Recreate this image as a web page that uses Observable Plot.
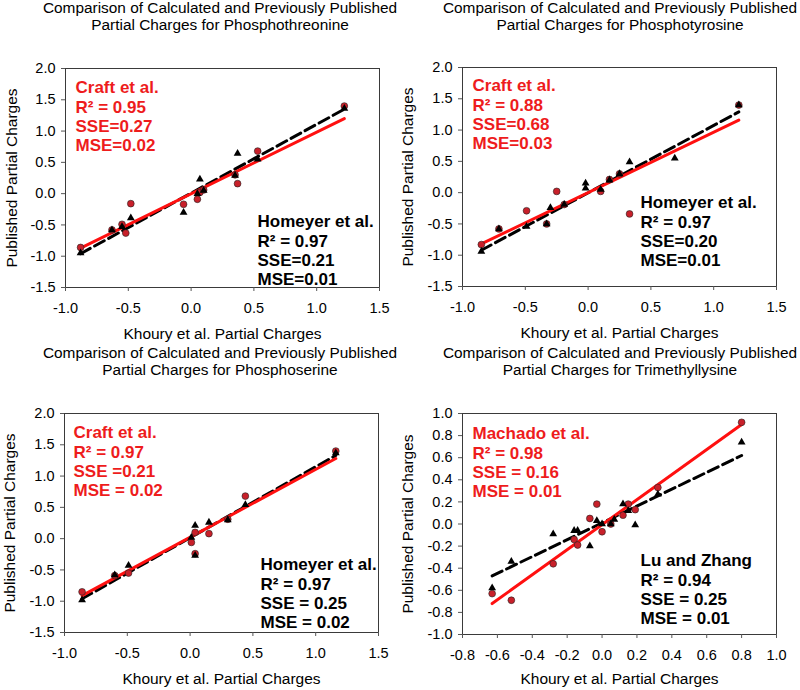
<!DOCTYPE html>
<html>
<head>
<meta charset="utf-8">
<script src="https://cdn.jsdelivr.net/npm/d3@7"></script>
<script src="https://cdn.jsdelivr.net/npm/@observablehq/plot@0.6"></script>
<style>
  html, body { margin: 0; padding: 0; background: #fff; }
  #wrap { position: relative; width: 800px; height: 690px; background: #fff; overflow: hidden; }
  .cell { position: absolute; width: 400px; height: 345px; }
  .title { position: absolute; left: 0; top: -1px; width: 440px; text-align: center;
           font-family: "Liberation Sans", Arial, sans-serif; font-size: 15.4px; line-height: 17px; color: #000; white-space: nowrap; }
</style>
</head>
<body>
<div id="wrap"></div>
<script>
// ---------- shared labels ----------
const xAxisLabel = "Khoury et al. Partial Charges";
const yAxisLabel = "Published Partial Charges";

// ---------- Panel 1: Phosphothreonine ----------
const p1Title = ["Comparison of Calculated and Previously Published", "Partial Charges for Phosphothreonine"];
const p1RedX = [-0.88, -0.63, -0.55, -0.52, -0.48, -0.06, 0.05, 0.07, 0.10, 0.35, 0.37, 0.53, 1.22];
const p1RedY = [-0.86, -0.58, -0.49, -0.63, -0.16, -0.17, -0.09, 0.02, 0.06, 0.30, 0.16, 0.68, 1.40];
const p1BlkX = [-0.88, -0.63, -0.55, -0.48, -0.06, 0.05, 0.07, 0.10, 0.35, 0.37, 0.53, 1.22];
const p1BlkY = [-0.95, -0.58, -0.53, -0.39, -0.30, 0.00, 0.23, 0.05, 0.29, 0.64, 0.55, 1.36];
const p1RedFitX = [-0.88, 1.22], p1RedFitY = [-0.87, 1.20];
const p1BlkFitX = [-0.88, 1.22], p1BlkFitY = [-0.96, 1.35];
const p1RedText = "Craft et al.\nR² = 0.95\nSSE=0.27\nMSE=0.02";
const p1BlkText = "Homeyer et al.\nR² = 0.97\nSSE=0.21\nMSE=0.01";

// ---------- Panel 2: Phosphotyrosine ----------
const p2Title = ["Comparison of Calculated and Previously Published", "Partial Charges for Phosphotyrosine"];
const p2RedX = [-0.85, -0.71, -0.49, -0.33, -0.25, -0.19, 0.10, 0.17, 0.25, 0.33, 1.20];
const p2RedY = [-0.83, -0.58, -0.29, -0.50, 0.02, -0.19, 0.02, 0.21, 0.30, -0.34, 1.40];
const p2BlkX = [-0.85, -0.71, -0.49, -0.33, -0.30, -0.19, -0.02, -0.02, 0.10, 0.17, 0.25, 0.33, 0.69, 1.20];
const p2BlkY = [-0.94, -0.58, -0.54, -0.50, -0.24, -0.19, 0.15, 0.07, 0.05, 0.20, 0.30, 0.49, 0.55, 1.40];
const p2RedFitX = [-0.85, 1.20], p2RedFitY = [-0.82, 1.16];
const p2BlkFitX = [-0.85, 1.20], p2BlkFitY = [-0.92, 1.29];
const p2RedText = "Craft et al.\nR² = 0.88\nSSE=0.68\nMSE=0.03";
const p2BlkText = "Homeyer et al.\nR² = 0.97\nSSE=0.20\nMSE=0.01";

// ---------- Panel 3: Phosphoserine ----------
const p3Title = ["Comparison of Calculated and Previously Published", "Partial Charges for Phosphoserine"];
const p3RedX = [-0.86, -0.60, -0.49, 0.01, 0.04, 0.04, 0.15, 0.30, 0.44, 1.16];
const p3RedY = [-0.85, -0.59, -0.55, -0.06, -0.24, 0.10, 0.08, 0.31, 0.68, 1.40];
const p3BlkX = [-0.86, -0.60, -0.49, 0.01, 0.04, 0.04, 0.15, 0.30, 0.44, 1.16];
const p3BlkY = [-0.98, -0.58, -0.43, 0.02, 0.21, -0.27, 0.26, 0.30, 0.54, 1.37];
const p3RedFitX = [-0.86, 1.16], p3RedFitY = [-0.91, 1.28];
const p3BlkFitX = [-0.86, 1.16], p3BlkFitY = [-0.96, 1.33];
const p3RedText = "Craft et al.\nR² = 0.97\nSSE =0.21\nMSE = 0.02";
const p3BlkText = "Homeyer et al.\nR² = 0.97\nSSE = 0.25\nMSE = 0.02";

// ---------- Panel 4: Trimethyllysine ----------
const p4Title = ["Comparison of Calculated and Previously Published", "Partial Charges for Trimethyllysine"];
const p4RedX = [-0.63, -0.52, -0.28, -0.16, -0.14, -0.07, -0.03, 0.00, 0.05, 0.12, 0.15, 0.19, 0.32, 0.80];
const p4RedY = [-0.63, -0.69, -0.36, -0.14, -0.19, 0.05, 0.18, -0.07, 0.00, 0.08, 0.18, 0.13, 0.33, 0.92];
const p4BlkX = [-0.63, -0.52, -0.28, -0.16, -0.14, -0.07, -0.03, 0.00, 0.05, 0.07, 0.12, 0.15, 0.19, 0.32, 0.80];
const p4BlkY = [-0.58, -0.34, -0.09, -0.06, -0.06, -0.20, 0.03, 0.00, 0.00, 0.04, 0.18, 0.12, -0.01, 0.27, 0.74];
const p4RedFitX = [-0.63, 0.80], p4RedFitY = [-0.72, 0.90];
const p4BlkFitX = [-0.63, 0.80], p4BlkFitY = [-0.47, 0.62];
const p4RedText = "Machado et al.\nR² = 0.98\nSSE = 0.16\nMSE = 0.01";
const p4BlkText = "Lu and Zhang\nR² = 0.94\nSSE = 0.25\nMSE = 0.01";

// ---------- tick values ----------
const ticksWide = [-1.0, -0.5, 0.0, 0.5, 1.0, 1.5];
const ticksTall = [-1.5, -1.0, -0.5, 0.0, 0.5, 1.0, 1.5, 2.0];
const ticksX4 = [-0.8, -0.6, -0.4, -0.2, 0.0, 0.2, 0.4, 0.6, 0.8, 1.0];
const ticksY4 = [-1.0, -0.8, -0.6, -0.4, -0.2, 0.0, 0.2, 0.4, 0.6, 0.8, 1.0];

const RED_TEXT = "#ee1c1c";
const RED_LINE = "#ff1010";
const RED_DOT = "#c8202a";

const zip = (xs, ys) => xs.map((x, i) => ({x, y: ys[i]}));
const fmt = d => d.toFixed(1);

const panels = [
  {left: 0, top: 0, title: p1Title, redX: p1RedX, redY: p1RedY, blkX: p1BlkX, blkY: p1BlkY,
   rfx: p1RedFitX, rfy: p1RedFitY, bfx: p1BlkFitX, bfy: p1BlkFitY, redText: p1RedText, blkText: p1BlkText,
   xd: [-1, 1.5], yd: [-1.5, 2], xt: ticksWide, yt: ticksTall,
   m: [33, 21, 58, 65], red: [10, 11], blk: [192, 145], ylab: -53, xlab: 47},
  {left: 400, top: 0, title: p2Title, redX: p2RedX, redY: p2RedY, blkX: p2BlkX, blkY: p2BlkY,
   rfx: p2RedFitX, rfy: p2RedFitY, bfx: p2BlkFitX, bfy: p2BlkFitY, redText: p2RedText, blkText: p2BlkText,
   xd: [-1, 1.5], yd: [-1.5, 2], xt: ticksWide, yt: ticksTall,
   m: [32, 24, 59, 62], red: [10, 10], blk: [178, 127], ylab: -54, xlab: 47},
  {left: 0, top: 345, title: p3Title, redX: p3RedX, redY: p3RedY, blkX: p3BlkX, blkY: p3BlkY,
   rfx: p3RedFitX, rfy: p3RedFitY, bfx: p3BlkFitX, bfy: p3BlkFitY, redText: p3RedText, blkText: p3BlkText,
   xd: [-1, 1.5], yd: [-1.5, 2], xt: ticksWide, yt: ticksTall,
   m: [33, 22, 58, 64], red: [9, 11], blk: [196, 143], ylab: -54, xlab: 47},
  {left: 400, top: 345, title: p4Title, redX: p4RedX, redY: p4RedY, blkX: p4BlkX, blkY: p4BlkY,
   rfx: p4RedFitX, rfy: p4RedFitY, bfx: p4BlkFitX, bfy: p4BlkFitY, redText: p4RedText, blkText: p4BlkText,
   xd: [-0.8, 1.0], yd: [-1.0, 1.0], xt: ticksX4, yt: ticksY4,
   m: [33, 24, 56, 62], red: [10, 12], blk: [178, 139], ylab: -54, xlab: 45}
];

const wrap = document.getElementById("wrap");
for (const p of panels) {
  const cell = document.createElement("div");
  cell.className = "cell";
  cell.style.left = p.left + "px";
  cell.style.top = p.top + "px";
  const t = document.createElement("div");
  t.className = "title";
  t.innerHTML = p.title.join("<br>");
  cell.appendChild(t);

  const chart = Plot.plot({
    width: 400,
    height: 310,
    marginTop: p.m[0], marginRight: p.m[1], marginBottom: p.m[2], marginLeft: p.m[3],
    style: {fontFamily: "'Liberation Sans', Arial, sans-serif", fontSize: "14.5px", color: "#000", background: "transparent", overflow: "visible"},
    x: {domain: p.xd},
    y: {domain: p.yd},
    marks: [
      Plot.frame({stroke: "#3a3a3a", strokeWidth: 1}),
      Plot.axisX(p.xt, {tickFormat: fmt, tickSize: 4, tickPadding: 11, stroke: "#555", label: null}),
      Plot.axisY(p.yt, {tickFormat: fmt, tickSize: 4, tickPadding: 6, stroke: "#555", label: null}),
      Plot.line(zip(p.bfx, p.bfy), {x: "x", y: "y", stroke: "#000", strokeWidth: 3, strokeDasharray: "11,5"}),
      Plot.line(zip(p.rfx, p.rfy), {x: "x", y: "y", stroke: RED_LINE, strokeWidth: 3}),
      Plot.dot(zip(p.redX, p.redY), {x: "x", y: "y", r: 3.4, fill: RED_DOT, stroke: "#222", strokeWidth: 0.6}),
      Plot.dot(zip(p.blkX, p.blkY), {x: "x", y: "y", symbol: "triangle", r: 2.9, fill: "#000", stroke: "none"}),
      Plot.text([p.redText], {text: d => d, frameAnchor: "top-left", dx: p.red[0], dy: p.red[1], textAnchor: "start", lineAnchor: "top",
        fontSize: 17, fontWeight: "bold", lineHeight: 1.14, fill: RED_TEXT}),
      Plot.text([p.blkText], {text: d => d, frameAnchor: "top-left", dx: p.blk[0], dy: p.blk[1], textAnchor: "start", lineAnchor: "top",
        fontSize: 17, fontWeight: "bold", lineHeight: 1.14, fill: "#000"}),
      Plot.text([yAxisLabel], {text: d => d, frameAnchor: "left", rotate: -90, dx: p.ylab, textAnchor: "middle", lineAnchor: "middle", fontSize: 15.5, fill: "#000"}),
      Plot.text([xAxisLabel], {text: d => d, frameAnchor: "bottom", dy: p.xlab, textAnchor: "middle", lineAnchor: "middle", fontSize: 15.5, fill: "#000"})
    ]
  });
  chart.style.position = "absolute";
  chart.style.left = "0px";
  chart.style.top = "35px";
  cell.appendChild(chart);
  wrap.appendChild(cell);
}
</script>
</body>
</html>
